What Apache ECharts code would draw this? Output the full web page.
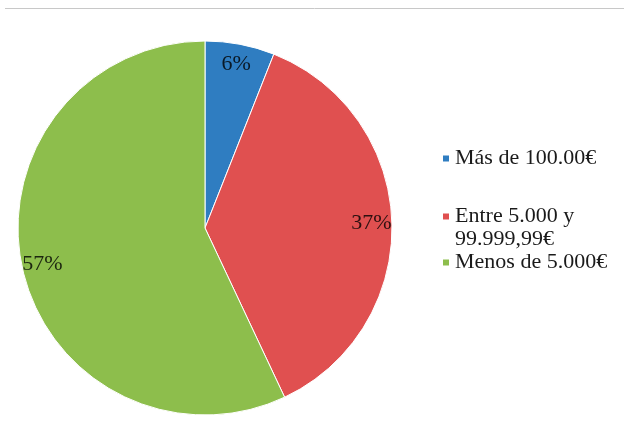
<!DOCTYPE html>
<html>
<head>
<meta charset="utf-8">
<script src="https://cdn.jsdelivr.net/npm/echarts@6/dist/echarts.min.js"></script>
<style>
  html, body { margin: 0; padding: 0; background: #fff; }
  #chart_pie { width: 624px; height: 441px; }
</style>
</head>
<body>
<div id="chart_pie"></div>
<script>
// datos del gráfico
var categories = ["Más de 100.00€", "Entre 5.000 y\n99.999,99€", "Menos de 5.000€"];
var values = [6, 37, 57];
var colors = ["#2f7dc1", "#e05050", "#8dbe4c"];

var seriesData = categories.map(function (name, i) {
  return { name: name, value: values[i], itemStyle: { color: colors[i] } };
});

var chartDom = document.getElementById("chart_pie");
var myChart = echarts.init(chartDom);
var option;

var legendBase = {
  orient: "vertical",
  left: 441,
  padding: 0,
  itemWidth: 8,
  itemHeight: 8,
  icon: "rect",
  selectedMode: false,
  textStyle: {
    fontFamily: "Liberation Serif",
    fontSize: 22,
    lineHeight: 23,
    color: "#1a1a1a"
  }
};

option = {
  animation: false,
  graphic: [
    {
      type: "line",
      shape: { x1: 5, y1: 8.5, x2: 624, y2: 8.5 },
      style: { stroke: "#c8c8c8", lineWidth: 1 }
    }
  ],
  legend: [
    Object.assign({}, legendBase, { top: 147, data: [categories[0]] }),
    // el cuadro de color va en la primera línea del texto
    Object.assign({}, legendBase, {
      top: 205,
      itemHeight: 31,
      icon: "path://M0,0h8v8h-8zM0,31h0.01",
      data: [categories[1]]
    }),
    Object.assign({}, legendBase, { top: 251, data: [categories[2]] })
  ],
  series: [
    {
      name: "pie",
      type: "pie",
      center: [205, 228],
      radius: [0, 187],
      startAngle: 90,
      clockwise: true,
      silent: true,
      label: { show: false },
      labelLine: { show: false },
      itemStyle: { borderColor: "#fff", borderWidth: 1 },
      data: seriesData
    },
    {
      // anillo invisible solo para colocar las etiquetas
      name: "labels",
      type: "pie",
      center: [205, 228],
      radius: [140, 187],
      startAngle: 90,
      clockwise: true,
      silent: true,
      itemStyle: { color: "transparent", borderWidth: 0 },
      label: {
        show: true,
        position: "inside",
        formatter: "{c}%",
        fontFamily: "Liberation Serif",
        fontSize: 22,
        color: "rgba(0,0,0,0.8)"
      },
      labelLine: { show: false },
      data: categories.map(function (name, i) {
        return { name: name, value: values[i] };
      })
    }
  ]
};

option && myChart.setOption(option);
</script>
</body>
</html>
